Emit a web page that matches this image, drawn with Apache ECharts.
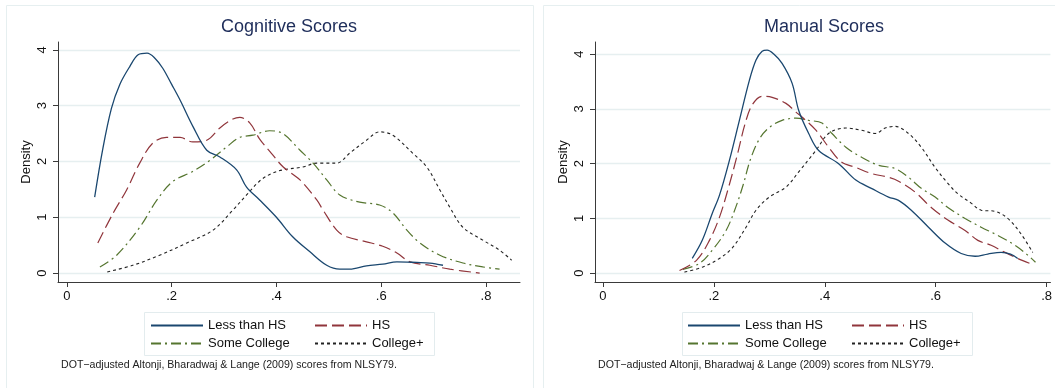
<!DOCTYPE html>
<html>
<head>
<meta charset="utf-8">
<script src="https://cdn.jsdelivr.net/npm/echarts@6/dist/echarts.min.js"></script>
<style>
html,body{margin:0;padding:0;background:#fff;}
#chart{width:1055px;height:388px;}
</style>
</head>
<body>
<div id="chart"></div>
<script>
// ---------- data ----------
const seriesNames = ['Less than HS', 'HS', 'Some College', 'College+'];
const panelTitles = ['Cognitive Scores', 'Manual Scores'];
const xTicks = [0, 0.2, 0.4, 0.6, 0.8];
const xTickLabels = ['0', '.2', '.4', '.6', '.8'];
const yTicks = [0, 1, 2, 3, 4];
const yTickLabels = ['0', '1', '2', '3', '4'];
const yAxisName = 'Density';
const footnote = 'DOT\u2212adjusted Altonji, Bharadwaj & Lange (2009) scores from NLSY79.';

// Cognitive scores densities
const cogLessHS = [[0.053,1.36],[0.068,2.2],[0.085,2.95],[0.101,3.38],[0.12,3.7],[0.136,3.91],[0.153,3.94],[0.168,3.85],[0.183,3.67],[0.2,3.38],[0.216,3.1],[0.241,2.62],[0.267,2.2],[0.292,2.08],[0.324,1.85],[0.343,1.54],[0.368,1.31],[0.40,1.0],[0.431,0.65],[0.464,0.38],[0.496,0.14],[0.521,0.07],[0.54,0.07],[0.572,0.13],[0.603,0.16],[0.63,0.2],[0.668,0.19],[0.693,0.18],[0.718,0.14]];
const cogHS = [[0.059,0.54],[0.088,1.07],[0.114,1.49],[0.139,1.97],[0.164,2.33],[0.19,2.43],[0.216,2.43],[0.24,2.35],[0.267,2.38],[0.292,2.6],[0.317,2.76],[0.33,2.79],[0.349,2.69],[0.368,2.4],[0.39,2.15],[0.413,1.9],[0.445,1.67],[0.477,1.31],[0.489,1.13],[0.515,0.77],[0.534,0.65],[0.572,0.56],[0.603,0.48],[0.63,0.36],[0.655,0.2],[0.693,0.14],[0.731,0.07],[0.788,0.0]];
const cogSomeCollege = [[0.063,0.11],[0.095,0.32],[0.139,0.82],[0.172,1.31],[0.202,1.64],[0.24,1.82],[0.273,2.02],[0.305,2.26],[0.33,2.43],[0.355,2.47],[0.387,2.55],[0.412,2.5],[0.445,2.2],[0.47,1.97],[0.496,1.67],[0.521,1.4],[0.559,1.27],[0.597,1.22],[0.622,1.08],[0.649,0.77],[0.674,0.54],[0.712,0.32],[0.756,0.18],[0.794,0.11],[0.826,0.07]];
const cogCollegePlus = [[0.077,0.02],[0.126,0.14],[0.177,0.32],[0.229,0.54],[0.279,0.77],[0.317,1.13],[0.343,1.4],[0.368,1.65],[0.39,1.78],[0.413,1.85],[0.45,1.9],[0.477,1.97],[0.515,1.97],[0.54,2.15],[0.572,2.38],[0.597,2.53],[0.622,2.47],[0.66,2.15],[0.687,1.9],[0.712,1.49],[0.731,1.18],[0.756,0.82],[0.794,0.59],[0.826,0.41],[0.849,0.23]];

// Manual scores densities
const manLessHS = [[0.161,0.27],[0.179,0.6],[0.197,1.09],[0.21,1.42],[0.228,2.06],[0.246,2.79],[0.264,3.52],[0.276,3.89],[0.287,4.05],[0.296,4.07],[0.308,4.0],[0.323,3.83],[0.341,3.47],[0.353,2.97],[0.371,2.55],[0.389,2.24],[0.425,2.0],[0.456,1.7],[0.484,1.55],[0.515,1.39],[0.533,1.33],[0.556,1.15],[0.587,0.84],[0.617,0.55],[0.646,0.36],[0.671,0.31],[0.694,0.35],[0.718,0.38],[0.735,0.35],[0.748,0.27]];
const manHS = [[0.138,0.05],[0.169,0.24],[0.192,0.6],[0.21,1.02],[0.226,1.55],[0.242,2.15],[0.256,2.72],[0.269,3.07],[0.287,3.23],[0.305,3.21],[0.33,3.1],[0.348,2.94],[0.359,2.85],[0.384,2.61],[0.407,2.3],[0.43,2.03],[0.456,1.93],[0.484,1.82],[0.515,1.75],[0.533,1.68],[0.563,1.48],[0.592,1.2],[0.622,0.97],[0.653,0.78],[0.676,0.6],[0.7,0.51],[0.725,0.38],[0.748,0.27],[0.775,0.16]];
const manSomeCollege = [[0.144,0.07],[0.174,0.18],[0.197,0.42],[0.222,0.78],[0.24,1.22],[0.253,1.62],[0.266,2.08],[0.282,2.45],[0.3,2.66],[0.323,2.79],[0.348,2.83],[0.371,2.79],[0.395,2.74],[0.413,2.55],[0.438,2.3],[0.466,2.12],[0.497,1.97],[0.527,1.91],[0.551,1.75],[0.574,1.55],[0.599,1.39],[0.622,1.2],[0.653,1.0],[0.682,0.84],[0.712,0.69],[0.743,0.51],[0.766,0.33],[0.78,0.2]];
const manCollegePlus = [[0.147,0.02],[0.179,0.11],[0.21,0.27],[0.233,0.46],[0.258,0.84],[0.276,1.15],[0.3,1.39],[0.33,1.57],[0.353,1.85],[0.384,2.24],[0.407,2.55],[0.438,2.65],[0.466,2.61],[0.491,2.55],[0.509,2.65],[0.527,2.68],[0.551,2.55],[0.574,2.3],[0.599,1.93],[0.622,1.64],[0.64,1.45],[0.664,1.28],[0.682,1.15],[0.707,1.13],[0.73,1.0],[0.753,0.73],[0.775,0.38]];

// ---------- styling ----------
const FONT = '"Liberation Sans", Arial, Helvetica, sans-serif';
const colors = ['#1a476f', '#90353b', '#55752f', '#222222'];
const dashes = ['solid', [12, 5], [10, 4, 2, 4], [3, 3]];
const widths = [1.3, 1.2, 1.2, 1.1];
const panelData = [
  [cogLessHS, cogHS, cogSomeCollege, cogCollegePlus],
  [manLessHS, manHS, manSomeCollege, manCollegePlus]
];
const grids = [
  {left: 58, right: 1055 - 520, top: 42, bottom: 388 - 282},
  {left: 595, right: 2, top: 42, bottom: 388 - 282}
];
const xRanges = [[-0.017, 0.865], [-0.0144, 0.807]];
const yRanges = [[-0.16, 4.14], [-0.16, 4.22]];
const plotCenters = [289, 824];

const xAxes = [], yAxes = [], series = [], titles = [];
for (let p = 0; p < 2; p++) {
  xAxes.push({
    type: 'value', gridIndex: p, min: xRanges[p][0], max: xRanges[p][1],
    axisLine: {onZero: false, lineStyle: {color: '#3a3a3a', width: 1}},
    axisTick: {show: true, length: 5, customValues: xTicks, lineStyle: {color: '#3a3a3a'}},
    axisLabel: {customValues: xTicks, margin: 8, fontSize: 13, color: '#111', fontFamily: FONT,
      formatter: v => xTickLabels[xTicks.findIndex(t => Math.abs(t - v) < 1e-9)]},
    splitLine: {show: false}
  });
  yAxes.push({
    type: 'value', gridIndex: p, min: yRanges[p][0], max: yRanges[p][1],
    name: yAxisName, nameLocation: 'middle', nameGap: 25, nameRotate: 90,
    nameTextStyle: {fontSize: 13, color: '#111', fontFamily: FONT},
    axisLine: {onZero: false, show: true, lineStyle: {color: '#3a3a3a', width: 1}},
    axisTick: {show: true, length: 5, customValues: yTicks, lineStyle: {color: '#3a3a3a'}},
    axisLabel: {customValues: yTicks, rotate: 90, margin: 9, fontSize: 13, color: '#111', fontFamily: FONT,
      formatter: v => yTickLabels[yTicks.findIndex(t => Math.abs(t - v) < 1e-9)]},
    splitLine: {show: true, lineStyle: {color: '#e6eff0', width: 1.3}}
  });
  titles.push({
    text: panelTitles[p], left: plotCenters[p], top: 18, textAlign: 'center', padding: 0,
    textStyle: {fontSize: 18, fontWeight: 'normal', color: '#1e2d5a', fontFamily: FONT}
  });
  for (let s = 0; s < 4; s++) {
    series.push({
      name: seriesNames[s], type: 'line', xAxisIndex: p, yAxisIndex: p,
      data: panelData[p][s], showSymbol: false, symbol: 'none', smooth: 0.35,
      lineStyle: {color: colors[s], type: dashes[s], width: widths[s]},
      itemStyle: {color: colors[s]}, z: 10 - s, animation: false
    });
  }
}

const legendBase = {
  orient: 'vertical', padding: 0, itemWidth: 52, itemHeight: 14, itemGap: 5,
  textStyle: {fontSize: 13, color: '#111', fontFamily: FONT}, selectedMode: false,
  itemStyle: {opacity: 0, borderWidth: 0}
};
const legends = [
  Object.assign({}, legendBase, {left: 150, top: 319, data: [seriesNames[0], seriesNames[2]]}),
  Object.assign({}, legendBase, {left: 314, top: 319, data: [seriesNames[1], seriesNames[3]]}),
  Object.assign({}, legendBase, {left: 687, top: 319, data: [seriesNames[0], seriesNames[2]]}),
  Object.assign({}, legendBase, {left: 851, top: 319, data: [seriesNames[1], seriesNames[3]]})
];

const graphics = [
  {type: 'rect', shape: {x: 6.5, y: 5.5, width: 527, height: 400}, style: {fill: 'none', stroke: '#e6eff0', lineWidth: 1}, z: -10, silent: true},
  {type: 'rect', shape: {x: 543.5, y: 5.5, width: 520, height: 400}, style: {fill: 'none', stroke: '#e6eff0', lineWidth: 1}, z: -10, silent: true},
  {type: 'rect', shape: {x: 144.5, y: 312.5, width: 290, height: 43}, style: {fill: '#fff', stroke: '#e3ecee', lineWidth: 1}, z: -5, silent: true},
  {type: 'rect', shape: {x: 682.5, y: 312.5, width: 290, height: 43}, style: {fill: '#fff', stroke: '#e3ecee', lineWidth: 1}, z: -5, silent: true},
  {type: 'text', left: 61, top: 360, style: {text: footnote, font: '10.6px ' + FONT, fill: '#222'}},
  {type: 'text', left: 598, top: 360, style: {text: footnote, font: '10.6px ' + FONT, fill: '#222'}}
];

const chart = echarts.init(document.getElementById('chart'), null, {renderer: 'canvas'});
chart.setOption({
  backgroundColor: '#fff',
  animation: false,
  title: titles,
  grid: grids,
  xAxis: xAxes,
  yAxis: yAxes,
  legend: legends,
  series: series,
  graphic: graphics
});
</script>
</body>
</html>
